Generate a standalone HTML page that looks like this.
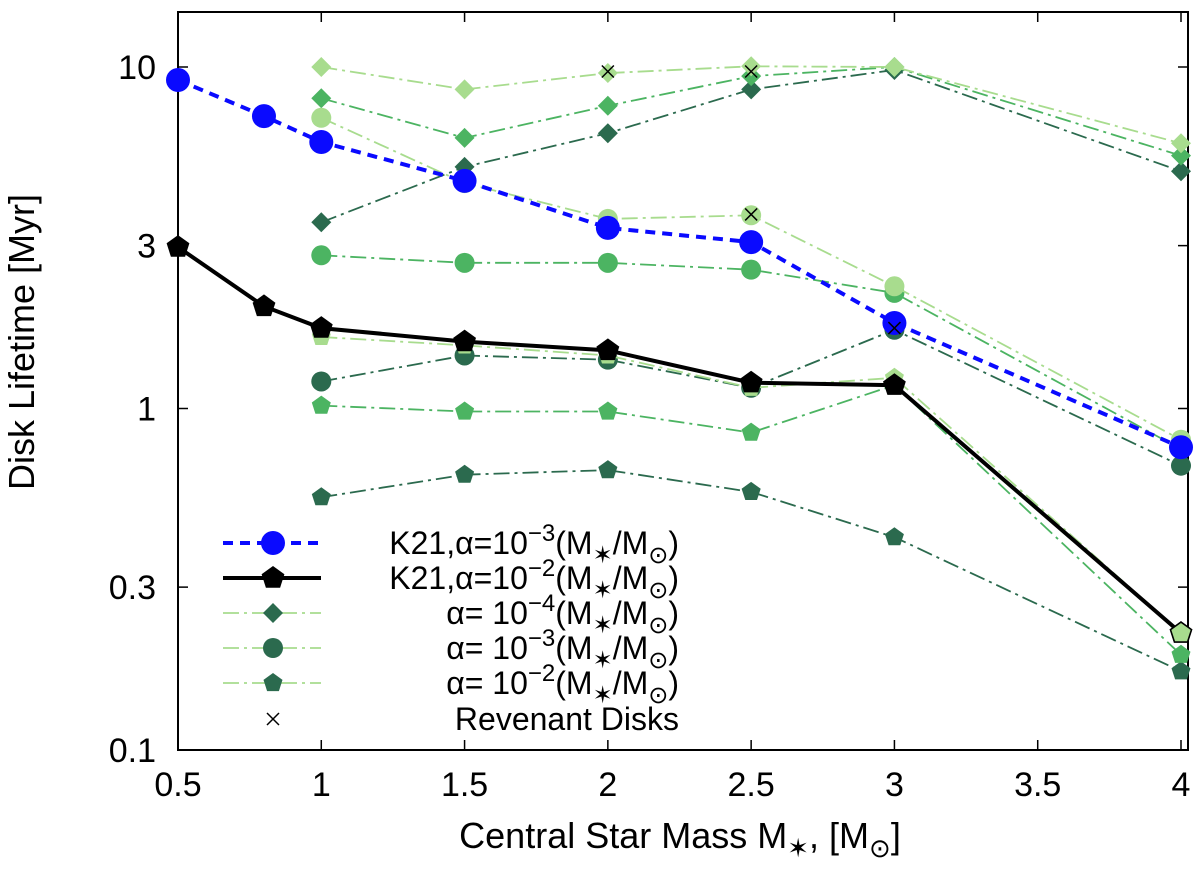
<!DOCTYPE html>
<html><head><meta charset="utf-8"><style>
body{margin:0;background:#fff;}
svg{display:block;font-family:"Liberation Sans",sans-serif;}
</style></head><body>
<svg id="chart" width="1200" height="876" viewBox="0 0 1200 876"></svg>
<script>
const masses=[1,1.5,2,2.5,3,4];
const blueX=[0.5,0.8,1,1.5,2,2.5,3,4];
const blueY=[9.16,7.18,6.03,4.64,3.38,3.07,1.78,0.77];
const blackX=[0.5,0.8,1,1.5,2,2.5,3,4];
const blackY=[2.97,1.99,1.72,1.57,1.48,1.19,1.17,0.22];
const diaLight=[10,8.6,9.6,10.05,10,5.98];
const diaMid=[8.1,6.2,7.7,9.4,10,5.5];
const diaDark=[3.51,5.1,6.4,8.6,9.8,4.95];
const cirLight=[7.1,4.57,3.59,3.68,2.28,0.81];
const cirMid=[2.81,2.67,2.67,2.55,2.18,0.76];
const cirDark=[1.2,1.43,1.39,1.15,1.7,0.68];
const penLight=[1.62,1.53,1.43,1.15,1.23,0.22];
const penMid=[1.02,0.98,0.98,0.85,1.17,0.19];
const penDark=[0.55,0.64,0.66,0.57,0.42,0.17];
const revX=[2,2.5,2.5,3,3];
const revY=[9.7,9.7,3.7,1.72,1.16];
const xTicks=[0.5,1,1.5,2,2.5,3,3.5,4];
const yTicks=[0.1,0.3,1,3,10];

const NS="http://www.w3.org/2000/svg";
const svg=document.getElementById('chart');
const L=178,R=1188,T=12,B=750;
const xs=v=>L+(v-0.5)/3.5*(1181-L);
const ys=v=>750-(Math.log10(v)+1)*341.5;
function mk(tag,attrs,parent){const e=document.createElementNS(NS,tag);for(const k in attrs)e.setAttribute(k,attrs[k]);(parent||svg).appendChild(e);return e;}
const LIGHT="#a8dc8e",MID="#4cb462",DARK="#2b6a4e";

const frame=mk('rect',{x:L,y:T,width:R-L,height:B-T,fill:'none',stroke:'#000','stroke-width':2});


xTicks.forEach(t=>{
  const x=xs(t);
  const tk=mk('path',{d:`M${x},${B}v-10M${x},${T}v10`,stroke:'#000','stroke-width':1.5});
  
  
  const lb=mk('text',{x:x,y:B+46,'font-size':34,'text-anchor':'middle'});lb.textContent=t;
  
  
});
yTicks.forEach(t=>{
  const y=ys(t);
  const tk=mk('path',{d:`M${L},${y}h10M${R},${y}h-10`,stroke:'#000','stroke-width':1.5});
  
  
  const lb=mk('text',{x:L-22,y:y+12,'font-size':34,'text-anchor':'end'});lb.textContent=t;
  
  
});
const xt=mk('text',{x:680,y:848,'font-size':36,'text-anchor':'middle'});
xt.innerHTML='Central Star Mass M<tspan dy="9" font-size="26">✶</tspan><tspan dy="-9">, [M</tspan><tspan dy="9" font-size="26">⊙</tspan><tspan dy="-9">]</tspan>';


const yt=mk('text',{x:0,y:0,'font-size':36,'text-anchor':'middle',transform:'translate(34,342) rotate(-90)'});
yt.textContent='Disk Lifetime [Myr]';



function marker(shape,x,y,fill,size,stroke,parent){
  if(shape==='circle')return mk('circle',{cx:x,cy:y,r:size,fill:fill,stroke:stroke||'none','stroke-width':1.5},parent);
  if(shape==='diamond')return mk('path',{d:`M${x},${y-size}L${x+size},${y}L${x},${y+size}L${x-size},${y}Z`,fill:fill,stroke:stroke||'none','stroke-width':1.5},parent);
  if(shape==='pentagon'){let p=[];for(let i=0;i<5;i++){const a=-Math.PI/2+i*2*Math.PI/5;p.push((x+size*Math.cos(a)).toFixed(1)+','+(y+size*Math.sin(a)).toFixed(1));}
    return mk('polygon',{points:p.join(' '),fill:fill,stroke:stroke||'none','stroke-width':1.5},parent);}
  if(shape==='cross')return mk('path',{d:`M${x-size},${y-size}L${x+size},${y+size}M${x-size},${y+size}L${x+size},${y-size}`,stroke:fill,'stroke-width':1.5,fill:'none'},parent);
}
function series(name,X,Y,color,shape,size,lineAttrs,stroke){
  const g=mk('g',{});
  
  
  const d=X.map((v,i)=>(i?'L':'M')+xs(v).toFixed(1)+','+ys(Y[i]).toFixed(1)).join('');
  mk('path',Object.assign({d:d,fill:'none',stroke:color},lineAttrs),g);
  X.forEach((v,i)=>{const m=marker(shape,xs(v),ys(Y[i]),color,size,stroke,g);
    
    });
}
const dd={'stroke-width':1.8,'stroke-dasharray':'16 5 3 5'};
series('diamond-dark',masses,diaDark,DARK,'diamond',10,dd);
series('diamond-mid',masses,diaMid,MID,'diamond',10,dd);
series('diamond-light',masses,diaLight,LIGHT,'diamond',10,dd);
series('circle-dark',masses,cirDark,DARK,'circle',10,dd);
series('circle-mid',masses,cirMid,MID,'circle',10,dd);
series('circle-light',masses,cirLight,LIGHT,'circle',10,dd);
series('pentagon-dark',masses,penDark,DARK,'pentagon',10,dd);
series('pentagon-mid',masses,penMid,MID,'pentagon',10,dd);
series('pentagon-light',masses,penLight,LIGHT,'pentagon',10,dd);
series('k21-alpha-1e-3',blueX,blueY,'#0a0aff','circle',12,{'stroke-width':4,'stroke-dasharray':'10 7'});
series('k21-alpha-1e-2',blackX,blackY,'#000','pentagon',12,{'stroke-width':4});
const g4=marker('pentagon',xs(4),ys(blackY[7]),LIGHT,11,'#000');


revX.forEach((v,i)=>{const c=marker('cross',xs(v),ys(revY[i]),'#000',6);
  
  });

const lg=mk('g',{});


const rows=[
 {y:543,shape:'circle',col:'#0a0aff',line:'#0a0aff',la:{'stroke-width':4,'stroke-dasharray':'10 7'},s:12,pre:'K21,α=10',exp:'−3'},
 {y:578,shape:'pentagon',col:'#000',line:'#000',la:{'stroke-width':4},s:12,pre:'K21,α=10',exp:'−2'},
 {y:613,shape:'diamond',col:DARK,line:LIGHT,la:dd,s:10,pre:'α= 10',exp:'−4'},
 {y:648,shape:'circle',col:DARK,line:LIGHT,la:dd,s:10,pre:'α= 10',exp:'−3'},
 {y:683,shape:'pentagon',col:DARK,line:LIGHT,la:dd,s:10,pre:'α= 10',exp:'−2'}
];
rows.forEach(r=>{
  const e=mk('g',{},lg);
  
  
  mk('path',Object.assign({d:`M223,${r.y}H321`,stroke:r.line,fill:'none'},r.la),e);
  marker(r.shape,273,r.y,r.col,r.s,null,e);
  const t=mk('text',{x:679,y:r.y+11,'font-size':32,'text-anchor':'end'},e);
  t.innerHTML=r.pre+'<tspan dy="-13" font-size="24">'+r.exp+'</tspan><tspan dy="13">(M</tspan><tspan dy="9" font-size="24">✶</tspan><tspan dy="-9">/M</tspan><tspan dy="9" font-size="24">⊙</tspan><tspan dy="-9">)</tspan>';
});
const re=mk('g',{},lg);


marker('cross',273,719,'#000',6,null,re);
const rt=mk('text',{x:679,y:730,'font-size':32,'text-anchor':'end'},re);rt.textContent='Revenant Disks';
</script>
</body></html>
